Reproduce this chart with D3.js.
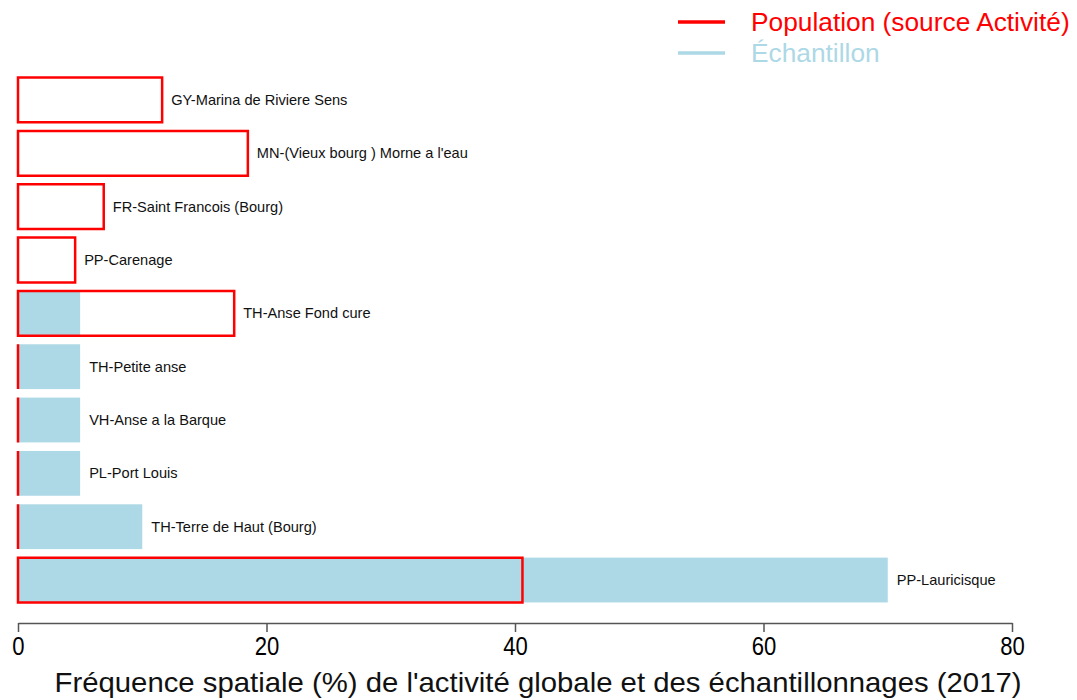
<!DOCTYPE html>
<html>
<head>
<meta charset="utf-8">
<script src="https://cdn.jsdelivr.net/npm/d3@7"></script>
<style>
  body { margin: 0; background: #fff; }
  svg { display: block; }
</style>
</head>
<body>
<script>
const width = 1077;
const height = 700;

const sites = [
  "GY-Marina de Riviere Sens",
  "MN-(Vieux bourg ) Morne a l'eau",
  "FR-Saint Francois (Bourg)",
  "PP-Carenage",
  "TH-Anse Fond cure",
  "TH-Petite anse",
  "VH-Anse a la Barque",
  "PL-Port Louis",
  "TH-Terre de Haut (Bourg)",
  "PP-Lauricisque"
];
const population = [11.6, 18.5, 6.9, 4.6, 17.4, 0, 0, 0, 0, 40.6];
const echantillon = [0, 0, 0, 0, 5, 5, 5, 5, 10, 70];
const xTicks = [0, 20, 40, 60, 80];

const legendLabels = ["Population (source Activité)", "Échantillon"];
const legendColors = ["#ff0000", "#add8e6"];

const svg = d3.select("body").append("svg")
  .attr("width", width)
  .attr("height", height);

const x = d3.scaleLinear().domain([0, 80]).range([18, 1012]);
const y = d3.scaleBand()
  .domain(sites)
  .range([73.3, 606.7])
  .paddingInner(0.16)
  .paddingOuter(0.08);

const rows = sites.map(function (s, i) {
  return { site: s, pop: population[i], ech: echantillon[i] };
});

// sample bars (filled)
svg.selectAll("rect.ech")
  .data(rows.filter(d => d.ech > 0))
  .enter()
  .append("rect")
    .attr("class", "ech")
    .attr("x", x(0))
    .attr("y", d => y(d.site))
    .attr("width", d => x(d.ech) - x(0))
    .attr("height", y.bandwidth())
    .attr("fill", legendColors[1]);

// population bars (outline only) - drawn as paths so zero width still shows a line
svg.selectAll("path.pop")
  .data(rows)
  .enter()
  .append("path")
    .attr("class", "pop")
    .attr("d", function (d) {
      const x0 = x(0), x1 = x(d.pop), y0 = y(d.site), y1 = y(d.site) + y.bandwidth();
      return "M" + x0 + "," + y0 + "H" + x1 + "V" + y1 + "H" + x0 + "Z";
    })
    .attr("fill", "none")
    .attr("stroke", legendColors[0])
    .attr("stroke-width", 2.5);

// site labels at the end of the longest bar
svg.selectAll("text.site")
  .data(rows)
  .enter()
  .append("text")
    .attr("class", "site")
    .attr("x", d => x(Math.max(d.pop, d.ech)) + 9)
    .attr("y", d => y(d.site) + y.bandwidth() / 2)
    .attr("dy", "0.35em")
    .attr("font-family", "Liberation Sans, Arial, sans-serif")
    .attr("font-size", 14.6)
    .attr("fill", "#111")
    .text(d => d.site);

// x axis
const axisG = svg.append("g")
  .attr("transform", "translate(0,623)")
  .call(d3.axisBottom(x).tickValues(xTicks).tickSize(9).tickPadding(5).tickSizeOuter(0));
axisG.select(".domain").attr("stroke", "#555").attr("stroke-width", 1.5);
axisG.selectAll(".tick line").attr("stroke", "#555").attr("stroke-width", 1.5);
axisG.selectAll(".tick text")
  .attr("font-family", "Liberation Sans, Arial, sans-serif")
  .attr("font-size", 26)
  .attr("fill", "#000")
  .attr("transform", "scale(0.85,1)")
  .attr("x", 0);

svg.append("text")
  .attr("x", 538)
  .attr("y", 692)
  .attr("text-anchor", "middle")
  .attr("font-family", "Liberation Sans, Arial, sans-serif")
  .attr("font-size", 28)
  .attr("textLength", 967)
  .attr("lengthAdjust", "spacingAndGlyphs")
  .attr("fill", "#111")
  .text("Fréquence spatiale (%) de l'activité globale et des échantillonnages (2017)");

// legend
const legend = svg.selectAll("g.legend")
  .data(legendLabels)
  .enter()
  .append("g")
    .attr("class", "legend")
    .attr("transform", (d, i) => "translate(678," + (22 + i * 31) + ")");

legend.append("line")
  .attr("x1", 0)
  .attr("x2", 47)
  .attr("stroke", (d, i) => legendColors[i])
  .attr("stroke-width", 3.5);

legend.append("text")
  .attr("x", 73)
  .attr("dy", "0.35em")
  .attr("font-family", "Liberation Sans, Arial, sans-serif")
  .attr("font-size", 26.3)
  .attr("fill", (d, i) => legendColors[i])
  .text(d => d);
</script>
</body>
</html>
